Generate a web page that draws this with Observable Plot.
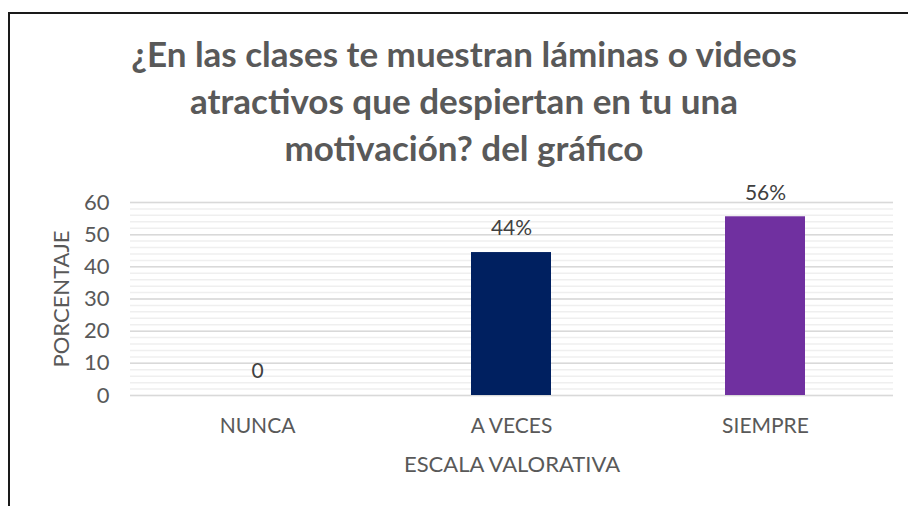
<!DOCTYPE html>
<html>
<head>
<meta charset="utf-8">
<script src="https://cdn.jsdelivr.net/npm/d3@7"></script>
<script src="https://cdn.jsdelivr.net/npm/@observablehq/plot@0.6"></script>
<style>
  html, body { margin: 0; padding: 0; background: #fff; }
  #wrap { position: relative; width: 908px; height: 506px; overflow: hidden; font-family: Lato, "Open Sans", sans-serif; }
  #frame { position: absolute; left: 8px; top: 12px; width: 1000px; height: 1000px; border: 2px solid #1a1a1a; }
  #title { position: absolute; left: 8px; top: 30px; width: 912px; text-align: center; font-weight: bold; font-size: 35px; line-height: 47px; color: #595959; }
  #chart { position: absolute; left: 0; top: 0; }
</style>
</head>
<body>
<div id="wrap">
  <div id="frame"></div>
  <div id="title">¿En las clases te muestran láminas o videos<br>atractivos que despiertan en tu una<br>motivación? del gráfico</div>
  <div id="chart"></div>
</div>
<script>
const categories = ["NUNCA", "A VECES", "SIEMPRE"];
const values = [0, 44.44, 55.56];
const valueLabels = ["0", "44%", "56%"];
const barColors = ["#4472C4", "#002060", "#7030A0"];
const majorTicks = [0, 10, 20, 30, 40, 50, 60];
const minorTicks = d3.range(0, 61, 2);

const data = categories.map((c, i) => ({cat: c, v: values[i], label: valueLabels[i], color: barColors[i]}));

const chart = Plot.plot({
  width: 908,
  height: 506,
  marginLeft: 130,
  marginRight: 15,
  marginTop: 202,
  marginBottom: 111,
  style: {fontFamily: "Lato, 'Open Sans', sans-serif", fontSize: "21px", color: "#595959", background: "transparent"},
  x: {domain: categories, paddingInner: 0.685, paddingOuter: 0.3425, label: null},
  y: {domain: [0, 60], label: null},
  marks: [
    Plot.ruleY(minorTicks, {stroke: "#efefef", strokeWidth: 1.5}),
    Plot.ruleY(majorTicks, {stroke: "#d9d9d9", strokeWidth: 1.5}),
    Plot.barY(data, {x: "cat", y: "v", fill: "color"}),
    Plot.text(data, {x: "cat", y: "v", text: "label", dy: -24, fill: "#404040", fontSize: 21}),
    Plot.axisY({ticks: majorTicks, tickSize: 0, tickPadding: 21, fontSize: 22, fill: "#595959", label: null}),
    Plot.axisY({ticks: [], tickSize: 0, fontSize: 22, fill: "#595959", label: "PORCENTAJE", labelAnchor: "center", labelArrow: "none", labelOffset: 77}),
    Plot.axisX({tickSize: 0, tickPadding: 23, fontSize: 21, fill: "#595959", label: null}),
    Plot.axisX({ticks: [], tickSize: 0, fontSize: 22, fill: "#595959", label: "ESCALA VALORATIVA", labelAnchor: "center", labelArrow: "none", labelOffset: 76})
  ]
});
document.getElementById("chart").appendChild(chart);
</script>
</body>
</html>
